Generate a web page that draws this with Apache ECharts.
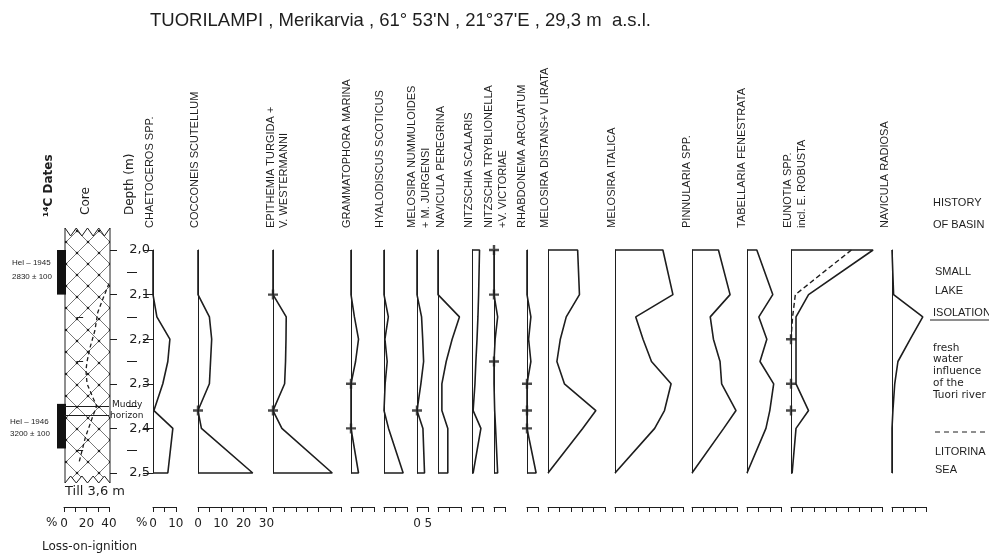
<!DOCTYPE html>
<html>
<head>
<meta charset="utf-8">
<script src="https://cdn.jsdelivr.net/npm/echarts@6/dist/echarts.min.js"></script>
<style>
  html, body { margin: 0; padding: 0; background: #fff; }
  #main { width: 989px; height: 553px; }
</style>
</head>
<body>
<div id="main"></div>
<script>
// sample depths (m)
var depths = [2.0, 2.1, 2.15, 2.2, 2.25, 2.3, 2.36, 2.4, 2.5];

// diatom frequencies (%) at each depth
var chaetoceros      = [0, 0, 1.7, 7.4, 6.5, 4.3, 0.4, 8.7, 6.5];
var cocconeis        = [0, 0, 5, 6, 5.5, 5, 0, 1.5, 24];
var epithemia        = [0, 0, 5.8, 5.7, 5.5, 5.1, 0, 3.9, 26];
var grammatophora    = [0, 0, 1.5, 3.3, 2, 0, 0, 0, 3.3];
var hyalodiscus      = [0, 0, 1.9, 0.4, 1.4, 0.5, 0, 2, 8.4];
var melNummuloides   = [0, 0, 2, 2.5, 2.9, 1.7, 0, 2.6, 3.3];
var navPeregrina     = [0, 0, 9.4, 6.2, 3.6, 1.7, 1.7, 4.3, 4.3];
var nitzScalaris     = [3.3, 2.9, 2.6, 2.2, 1.7, 1.3, 0.5, 3.9, 0.5];
var nitzTryblionella = [0, 0, 1.6, 0.5, 0, 0, 0.3, 0.7, 1.6];
var rhabdonema       = [0, 0, 1.7, 0.7, 1.7, 0, 0, 0, 4];
var melDistans       = [13, 13.8, 8, 5.4, 3.9, 7.2, 21, 15.2, 0];
var melItalica       = [21, 25.4, 9.1, 12.3, 16, 24.6, 21.7, 17.4, 0];
var pinnularia       = [11.6, 16.7, 8, 9.4, 12.3, 13, 19.3, 13.9, 0];
var tabellaria       = [4.3, 11.3, 5.2, 8.7, 5.7, 11.7, 10, 8.3, 0];
var eunotia          = [36, 7.7, 2.2, 2.2, 2.2, 2.2, 7.7, 2.2, 0.5];
var eunotiaRobusta   = [26.5, 1.9, 0.7, 0, null, null, null, null, null];
var navRadiosa       = [0.3, 0.7, 13.5, 8, 2.6, 1.2, 0.4, 0, 0];

// single finds (+) on the zero line
var crossCocconeis      = [2.36];
var crossEpithemia      = [2.1, 2.36];
var crossGrammatophora  = [2.3, 2.4];
var crossMelNummuloides = [2.36];
var crossNitzTryb       = [2.0, 2.1, 2.25];
var crossRhabdonema     = [2.3, 2.36, 2.4];
var crossEunotia        = [2.2, 2.3, 2.36];

// loss-on-ignition (%)
var loiDepths = [2.075, 2.11, 2.14, 2.18, 2.22, 2.25, 2.27, 2.3, 2.33, 2.35, 2.37, 2.42, 2.45, 2.48];
var loiValues = [40, 34.5, 30, 27.5, 23, 20.5, 19.5, 20.5, 25.5, 29, 26, 19, 16, 13];

// 14C dated intervals
var datedIntervals = [[2.0, 2.1], [2.345, 2.445]];
var muddyHorizon = [2.345, 2.374];
var minorDepths = [2.05, 2.15, 2.25, 2.35, 2.45];
var coreMarks = [2.15, 2.25, 2.35, 2.45];

var ink = '#1e1e1e';
var pxPerPct = 2.28;
var gridTop = 250, gridH = 223;
var plusPath = 'path://M3.8,0h2.4v3.8h3.8v2.4h-3.8v3.8h-2.4v-3.8h-3.8v-2.4h3.8z';

var panels = [
    { data: chaetoceros, left: 153, max: 10, labels: [0, 10], depthAxis: true },
    { data: cocconeis, left: 198, max: 30, labels: [0, 10, 20, 30], crosses: crossCocconeis },
    { data: epithemia, left: 273, max: 30, crosses: crossEpithemia },
    { data: grammatophora, left: 351, max: 10, crosses: crossGrammatophora },
    { data: hyalodiscus, left: 384, max: 10 },
    { data: melNummuloides, left: 417, max: 5, labels: [0, 5], crosses: crossMelNummuloides },
    { data: navPeregrina, left: 438, max: 10 },
    { data: nitzScalaris, left: 472, max: 5 },
    { data: nitzTryblionella, left: 494, max: 5, crosses: crossNitzTryb },
    { data: rhabdonema, left: 527, max: 5, crosses: crossRhabdonema },
    { data: melDistans, left: 548, max: 25 },
    { data: melItalica, left: 615, max: 30 },
    { data: pinnularia, left: 692, max: 20 },
    { data: tabellaria, left: 747, max: 15 },
    { data: eunotia, left: 791, max: 40, dashed: eunotiaRobusta, crosses: crossEunotia },
    { data: navRadiosa, left: 892, max: 15 }
];

function polygon(values) {
    var pts = [[0, depths[0]]];
    values.forEach(function (v, i) {
        if (v !== null) pts.push([v, depths[i]]);
    });
    pts.push([0, depths[depths.length - 1]]);
    return pts;
}

function depthLabel(v) {
    return v.toFixed(1).replace('.', ',');
}

var grids = [], xAxes = [], yAxes = [], series = [];

panels.forEach(function (p, i) {
    grids.push({ left: p.left, top: gridTop, width: p.max * pxPerPct, height: gridH });
    xAxes.push({
        gridIndex: i, type: 'value', min: 0, max: p.max, interval: 5,
        position: 'bottom', offset: 34,
        axisLine: { show: true, onZero: false, lineStyle: { color: ink, width: 1 } },
        axisTick: { show: true, length: 5, lineStyle: { color: ink } },
        axisLabel: {
            show: !!p.labels, margin: 11, color: ink, fontSize: 12, fontFamily: 'DejaVu Sans',
            formatter: function (v) { return p.labels && p.labels.indexOf(v) >= 0 ? String(v) : ''; }
        },
        splitLine: { show: false }
    });
    yAxes.push({
        gridIndex: i, type: 'value', inverse: true, min: 2.0, max: 2.5, interval: 0.1,
        axisLine: { show: true, onZero: false, lineStyle: { color: ink, width: 1 } },
        axisTick: { show: !!p.depthAxis, length: 10, lineStyle: { color: ink } },
        axisLabel: {
            show: !!p.depthAxis, margin: 3, color: ink, fontSize: 13, fontFamily: 'DejaVu Sans',
            formatter: depthLabel
        },
        splitLine: { show: false }
    });
    series.push({
        type: 'line', xAxisIndex: i, yAxisIndex: i, data: polygon(p.data),
        symbol: 'none', clip: false, lineStyle: { color: ink, width: 1.6 }
    });
    if (p.dashed) {
        var d = [];
        p.dashed.forEach(function (v, k) { if (v !== null) d.push([v, depths[k]]); });
        series.push({
            type: 'line', xAxisIndex: i, yAxisIndex: i, data: d,
            symbol: 'none', clip: false, lineStyle: { color: ink, width: 1.4, type: [5, 3] }
        });
    }
    if (p.crosses) {
        series.push({
            type: 'scatter', xAxisIndex: i, yAxisIndex: i, z: 5,
            data: p.crosses.map(function (dd) { return [0, dd]; }),
            symbol: plusPath, symbolSize: 10, itemStyle: { color: ink }
        });
    }
});

// loss-on-ignition / core grid
var gi = grids.length;
grids.push({ left: 64, top: gridTop, width: 45, height: gridH });
xAxes.push({
    gridIndex: gi, type: 'value', min: 0, max: 40, interval: 10, position: 'bottom', offset: 34,
    axisLine: { show: true, onZero: false, lineStyle: { color: ink } },
    axisTick: { show: true, length: 5, lineStyle: { color: ink } },
    axisLabel: {
        margin: 11, color: ink, fontSize: 12, fontFamily: 'DejaVu Sans',
        formatter: function (v) { return v % 20 === 0 ? String(v) : ''; }
    },
    splitLine: { show: false }
});
yAxes.push({
    gridIndex: gi, type: 'value', inverse: true, min: 2.0, max: 2.5, interval: 0.1, position: 'right',
    axisLine: { show: false, onZero: false },
    axisTick: { show: true, length: 8, lineStyle: { color: ink } },
    axisLabel: { show: false }, splitLine: { show: false }
});
series.push({
    type: 'line', xAxisIndex: gi, yAxisIndex: gi, z: 4,
    data: loiDepths.map(function (d, k) { return [loiValues[k], d]; }),
    symbol: 'none', clip: false, lineStyle: { color: ink, width: 1.3, type: [4, 3] },
    markLine: {
        silent: true, symbol: ['none', 'none'], label: { show: false },
        lineStyle: { color: ink, width: 1, type: 'solid' },
        data: muddyHorizon.map(function (d) { return { yAxis: d }; }).concat(
            coreMarks.map(function (d) { return [{ coord: [11, d] }, { coord: [17, d] }]; })
        )
    }
});

// 14C date bars
var gd = grids.length;
grids.push({ left: 57, top: gridTop, width: 9, height: gridH });
xAxes.push({ gridIndex: gd, type: 'value', min: 0, max: 1, show: false });
yAxes.push({ gridIndex: gd, type: 'value', inverse: true, min: 2.0, max: 2.5, show: false });
series.push({
    type: 'line', xAxisIndex: gd, yAxisIndex: gd, data: [[0, 2.0]], symbol: 'none',
    markArea: {
        silent: true, itemStyle: { color: '#111' },
        data: datedIntervals.map(function (r) { return [{ yAxis: r[0] }, { yAxis: r[1] }]; })
    }
});

// minor depth dashes
var gm = grids.length;
grids.push({ left: 127, top: gridTop, width: 10, height: gridH });
xAxes.push({ gridIndex: gm, type: 'value', min: 0, max: 1, show: false });
yAxes.push({ gridIndex: gm, type: 'value', inverse: true, min: 2.0, max: 2.5, show: false });
series.push({
    type: 'line', xAxisIndex: gm, yAxisIndex: gm, data: [[0, 2.0]], symbol: 'none',
    markLine: {
        silent: true, symbol: ['none', 'none'], label: { show: false },
        lineStyle: { color: ink, width: 1, type: 'solid' },
        data: minorDepths.map(function (d) { return { yAxis: d }; })
    }
});

// crosshatch pattern for the core
var pc = document.createElement('canvas');
pc.width = 22; pc.height = 22;
var cx = pc.getContext('2d');
cx.fillStyle = '#fff'; cx.fillRect(0, 0, 22, 22);
cx.strokeStyle = '#555'; cx.lineWidth = 0.8;
cx.beginPath(); cx.moveTo(0, 0); cx.lineTo(22, 22); cx.moveTo(22, 0); cx.lineTo(0, 22); cx.stroke();
cx.fillStyle = '#222';
[[11, 11], [0, 0], [22, 0], [0, 22], [22, 22]].forEach(function (c) {
    cx.beginPath(); cx.arc(c[0], c[1], 1.3, 0, Math.PI * 2); cx.fill();
});

var coreL = 65, coreR = 110, teeth = 4;
var corePts = [];
var tw = (coreR - coreL) / teeth;
for (var t = 0; t <= teeth * 2; t++) corePts.push([coreL + t * tw / 2, t % 2 ? 236 : 228]);
for (var b = teeth * 2; b >= 0; b--) corePts.push([coreL + b * tw / 2, b % 2 ? 476 : 483]);

var font = 'Liberation Sans';
function header(text, x) {
    return {
        type: 'text', x: x, y: 228, rotation: Math.PI / 2, z: 10,
        style: { text: text, fill: ink, font: '11px "' + font + '"', textAlign: 'left', textVerticalAlign: 'middle' }
    };
}
function label(text, x, y, size, fam) {
    return {
        type: 'text', x: x, y: y, z: 10,
        style: { text: text, fill: ink, font: size + 'px "' + (fam || font) + '"', textAlign: 'left', textVerticalAlign: 'middle' }
    };
}

var graphics = [
    { type: 'polygon', z: 1, shape: { points: corePts }, style: { fill: { image: pc, repeat: 'repeat' }, stroke: ink, lineWidth: 1 } },
    label('TUORILAMPI , Merikarvia , 61° 53\'N , 21°37\'E , 29,3 m  a.s.l.', 150, 21, 18.5, 'Liberation Sans'),
    {
        type: 'text', x: 49, y: 217, rotation: Math.PI / 2, z: 10,
        style: { text: '¹⁴C Dates', fill: ink, font: 'bold 12px "DejaVu Sans"', textAlign: 'left', textVerticalAlign: 'middle' }
    },
    {
        type: 'text', x: 86, y: 215, rotation: Math.PI / 2, z: 10,
        style: { text: 'Core', fill: ink, font: '12px "DejaVu Sans"', textAlign: 'left', textVerticalAlign: 'middle' }
    },
    {
        type: 'text', x: 130, y: 215, rotation: Math.PI / 2, z: 10,
        style: { text: 'Depth (m)', fill: ink, font: '12px "DejaVu Sans"', textAlign: 'left', textVerticalAlign: 'middle' }
    },
    header('CHAETOCEROS SPP.', 150),
    header('COCCONEIS SCUTELLUM', 195),
    header('EPITHEMIA TURGIDA +', 271),
    header('V. WESTERMANNI', 284),
    header('GRAMMATOPHORA MARINA', 347),
    header('HYALODISCUS SCOTICUS', 380),
    header('MELOSIRA NUMMULOIDES', 412),
    header('+ M. JURGENSI', 426),
    header('NAVICULA PEREGRINA', 441),
    header('NITZSCHIA SCALARIS', 469),
    header('NITZSCHIA TRYBLIONELLA', 489),
    header('+V. VICTORIAE', 503),
    header('RHABDONEMA ARCUATUM', 522),
    header('MELOSIRA DISTANS+V LIRATA', 545),
    header('MELOSIRA ITALICA', 612),
    header('PINNULARIA SPP.', 687),
    header('TABELLARIA FENESTRATA', 742),
    header('EUNOTIA SPP.', 788),
    header('incl. E. ROBUSTA', 802),
    header('NAVICULA RADIOSA', 885),
    label('Hel – 1945', 12, 263, 8, 'Liberation Sans'),
    label('2830 ± 100', 12, 277, 8, 'Liberation Sans'),
    label('Hel – 1946', 10, 422, 8, 'Liberation Sans'),
    label('3200 ± 100', 10, 434, 8, 'Liberation Sans'),
    label('Muddy', 112, 405, 9, 'DejaVu Sans'),
    label('horizon', 110, 416, 9, 'DejaVu Sans'),
    label('Till 3,6 m', 65, 492, 13, 'DejaVu Sans'),
    label('%', 46, 523, 12, 'DejaVu Sans'),
    label('%', 136, 523, 12, 'DejaVu Sans'),
    label('Loss-on-ignition', 42, 547, 12, 'DejaVu Sans'),
    label('HISTORY', 933, 203, 11),
    label('OF BASIN', 933, 225, 11),
    label('SMALL', 935, 272, 11),
    label('LAKE', 935, 291, 11),
    label('ISOLATION', 933, 313, 11),
    { type: 'line', shape: { x1: 930, y1: 320, x2: 989, y2: 320 }, style: { stroke: ink, lineWidth: 1 } },
    label('fresh', 933, 348, 10.5, 'DejaVu Sans'),
    label('water', 933, 359, 10.5, 'DejaVu Sans'),
    label('influence', 933, 371, 10.5, 'DejaVu Sans'),
    label('of the', 933, 383, 10.5, 'DejaVu Sans'),
    label('Tuori river', 933, 395, 10.5, 'DejaVu Sans'),
    { type: 'line', shape: { x1: 935, y1: 432, x2: 989, y2: 432 }, style: { stroke: ink, lineWidth: 1, lineDash: [5, 4] } },
    label('LITORINA', 935, 452, 11),
    label('SEA', 935, 470, 11)
];

var chart = echarts.init(document.getElementById('main'));
chart.setOption({
    backgroundColor: '#fff',
    animation: false,
    grid: grids,
    xAxis: xAxes,
    yAxis: yAxes,
    series: series,
    graphic: graphics
});
</script>
</body>
</html>
